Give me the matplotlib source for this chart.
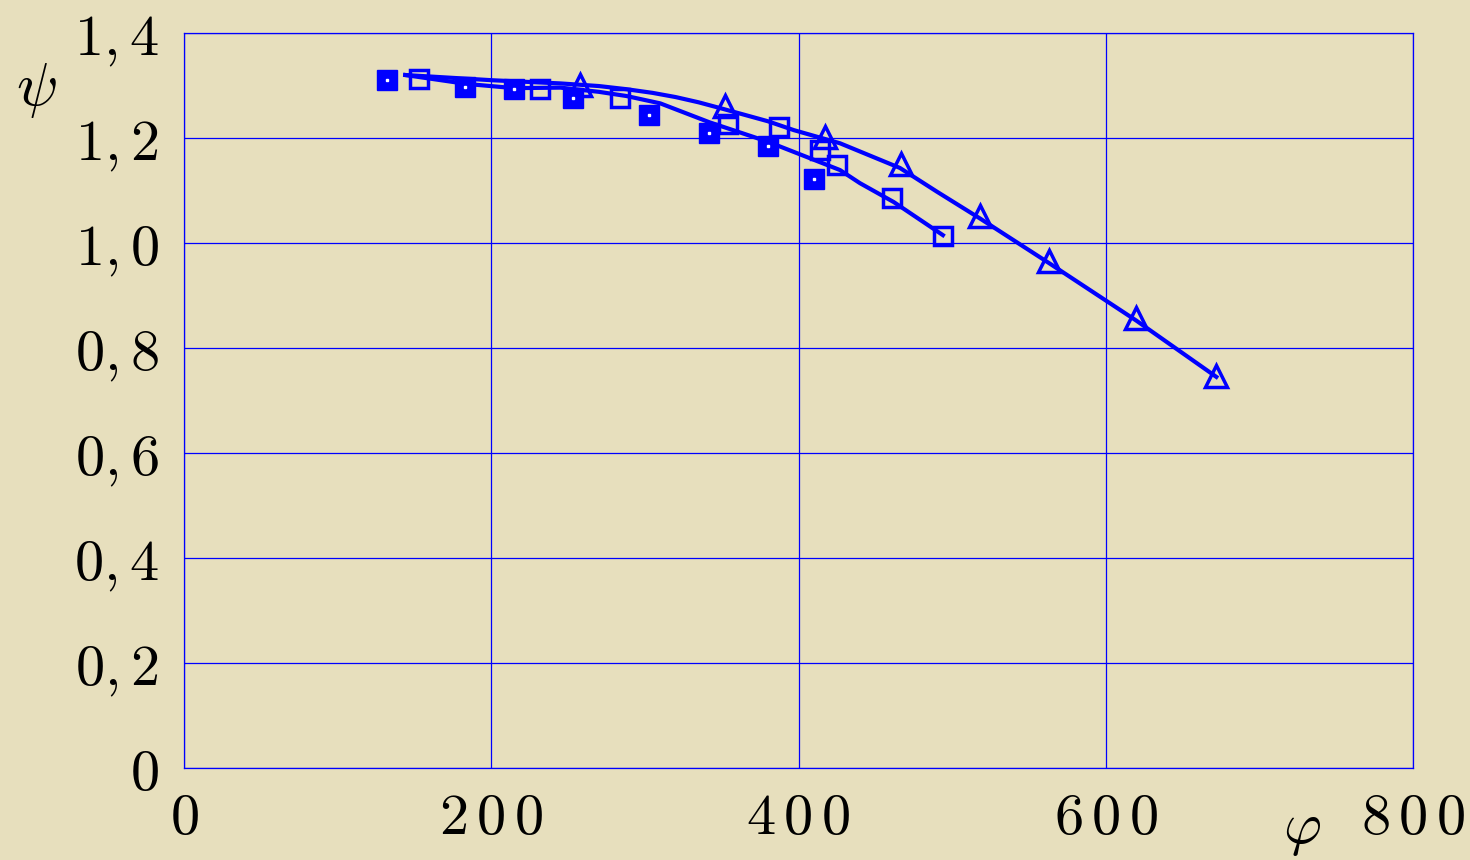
import matplotlib
matplotlib.use("Agg")
import matplotlib.pyplot as plt

plt.rcParams['mathtext.fontset'] = 'cm'
plt.rcParams['font.family'] = 'serif'

# filled squares (points only)
fill_x = [132, 183, 215, 253, 303, 342, 380, 410]
fill_y = [1.310, 1.297, 1.293, 1.276, 1.244, 1.210, 1.185, 1.122]

# open squares
open_x = [153, 232, 284, 354, 387, 414, 425, 461, 494]
open_y = [1.312, 1.293, 1.276, 1.227, 1.221, 1.177, 1.149, 1.086, 1.013]

# triangles
tri_x = [258, 352, 417, 467, 518, 563, 620, 672]
tri_y = [1.301, 1.261, 1.202, 1.150, 1.051, 0.966, 0.857, 0.747]

# upper curve (through triangles)
up_x = [144, 201, 245, 270, 288, 305, 320, 335, 349, 380, 397, 427, 466, 490, 518, 564, 620, 672]
up_y = [1.320, 1.310, 1.304, 1.299, 1.293, 1.286, 1.278, 1.268, 1.257, 1.232, 1.215, 1.190,
        1.143, 1.098, 1.047, 0.960, 0.852, 0.745]

# lower curve (through squares)
lo_x = [144, 184, 215, 245, 270, 288, 310, 326, 342, 380, 427, 440, 462, 494]
lo_y = [1.320, 1.303, 1.295, 1.296, 1.288, 1.280, 1.266, 1.248, 1.230, 1.193, 1.139, 1.114,
        1.078, 1.015]

xticks = [0, 200, 400, 600, 800]
xlabels = [r'$0$', r'$2\,0\,0$', r'$4\,0\,0$', r'$6\,0\,0$', r'$8\,0\,0$']
yticks = [0, 0.2, 0.4, 0.6, 0.8, 1.0, 1.2, 1.4]
ylabels = ['$0$', '$0,2$', '$0,4$', '$0,6$', '$0,8$', '$1,0$', '$1,2$', '$1,4$']

bg = '#e7dfbd'
blue = '#0000ff'

fig = plt.figure(figsize=(14.7, 8.6), dpi=100, facecolor=bg)
ax = fig.add_axes([0.1252, 0.107, 0.836, 0.8546], facecolor=bg)

ax.set_xlim(0, 800)
ax.set_ylim(0, 1.4)
ax.set_xticks(xticks)
ax.set_xticklabels(xlabels)
ax.set_yticks(yticks)
ax.set_yticklabels(ylabels)
ax.tick_params(length=0, labelsize=42)
ax.tick_params(axis='y', pad=18)
ax.tick_params(axis='x', pad=16)
ax.grid(True, color=blue, linewidth=0.9)
for s in ax.spines.values():
    s.set_color(blue)
    s.set_linewidth(0.9)

ax.plot(up_x, up_y, color=blue, linewidth=3.0, zorder=3)
ax.plot(lo_x, lo_y, color=blue, linewidth=3.0, zorder=3)
ax.plot(fill_x, fill_y, 's', color=blue, markersize=14, zorder=4)
ax.plot(fill_x, fill_y, 's', color='white', markersize=1.5, zorder=5)
ax.plot(open_x, open_y, 's', mfc='none', mec=blue, mew=2.5, markersize=12.5, zorder=4)
ax.plot(tri_x, tri_y, '^', mfc='none', mec=blue, mew=2.5, markersize=16, zorder=4)

fig.text(36 / 1470, 1 - 90 / 860, r'$\psi$', fontsize=44, ha='center', va='center')
fig.text(1302 / 1470, 1 - 830 / 860, r'$\varphi$', fontsize=42, ha='center', va='center')

fig.savefig('out.png', dpi=100, facecolor=bg)
